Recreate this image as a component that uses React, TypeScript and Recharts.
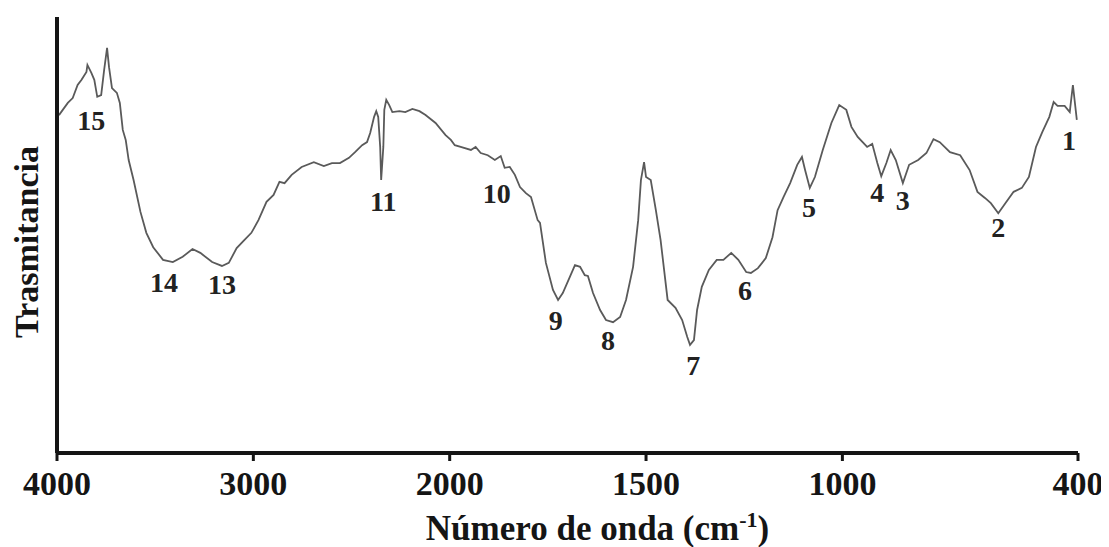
import React from 'react';
import { ComposedChart, Line, Scatter, XAxis, YAxis, Label } from 'recharts';

// FTIR spectrum: wavenumber (cm-1) and transmittance (arbitrary %, 0 = x-axis)
const WAVENUMBERS = [
  3990, 3945, 3920, 3895, 3875, 3850, 3845, 3825, 3810, 3795, 3775, 3760, 3745, 3735, 3720, 3695,
  3680, 3665, 3650, 3635, 3610, 3575, 3545, 3510, 3460, 3410, 3360, 3310, 3270, 3210, 3160, 3125,
  3085, 3045, 3010, 2974, 2933, 2897, 2867, 2841, 2805, 2754, 2692, 2641, 2600, 2559, 2513, 2482,
  2446, 2421, 2405, 2385, 2374, 2364, 2354, 2349, 2338, 2333, 2323, 2308, 2292, 2256, 2226, 2190,
  2154, 2123, 2072, 2021, 1997, 1987, 1972, 1946, 1934, 1921, 1903, 1885, 1870, 1860, 1847, 1834,
  1821, 1806, 1793, 1776, 1770, 1755, 1737, 1724, 1712, 1694, 1681, 1668, 1656, 1648, 1635, 1617,
  1602, 1584, 1566, 1551, 1533, 1520, 1513, 1505, 1500, 1488, 1475, 1463, 1445, 1425, 1408, 1395,
  1388, 1378, 1370, 1358, 1340, 1320, 1303, 1283, 1265, 1245, 1233, 1215, 1195, 1178, 1165, 1150,
  1133, 1115, 1103, 1095, 1083, 1070, 1050, 1028, 1008, 990, 977, 961, 937, 924, 911, 901,
  888, 877, 864, 846, 830, 807, 786, 768, 752, 726, 700, 676, 656, 637, 622, 603,
  585, 564, 543, 525, 507, 491, 473, 462, 452, 434, 421, 413, 403,
];
const TRANSMITTANCE = [
  77.5, 80.3, 81.4, 84.4, 85.6, 87.4, 89.0, 87.2, 85.6, 81.7, 82.1, 87.8, 92.9, 88.5, 83.7, 82.6,
  80.3, 74.1, 71.8, 67.2, 62.6, 55.3, 50.5, 47.2, 44.3, 43.8, 45.0, 46.8, 45.9, 43.8, 42.9, 43.6,
  47.0, 48.9, 50.5, 53.4, 57.6, 59.2, 62.2, 61.9, 63.8, 65.6, 66.7, 65.8, 66.5, 66.5, 67.7, 69.0,
  70.6, 71.3, 73.4, 77.1, 78.4, 77.1, 70.2, 62.6, 70.2, 78.7, 81.0, 79.8, 78.2, 78.4, 78.2, 78.9,
  78.4, 77.5, 75.7, 72.9, 71.8, 70.6, 70.2, 69.5, 70.2, 68.8, 68.3, 67.2, 68.1, 65.4, 65.6, 63.8,
  61.0, 59.6, 58.7, 53.4, 52.8, 43.6, 37.4, 35.1, 36.7, 40.4, 43.1, 42.7, 40.8, 40.6, 36.7, 32.8,
  30.5, 30.0, 31.2, 35.1, 42.7, 53.4, 62.6, 66.7, 63.3, 62.6, 55.7, 48.9, 35.1, 33.3, 30.5, 26.6,
  24.8, 25.9, 32.8, 38.1, 42.0, 44.3, 44.3, 45.9, 44.3, 41.5, 41.3, 42.4, 44.7, 49.5, 55.7, 58.7,
  61.9, 66.1, 67.9, 64.9, 60.8, 63.3, 69.5, 75.7, 79.8, 78.7, 74.8, 72.5, 70.2, 70.9, 66.5, 63.5,
  66.5, 69.5, 67.2, 61.9, 66.1, 67.2, 68.8, 72.0, 71.3, 69.0, 68.3, 64.9, 59.9, 58.5, 57.3, 55.0,
  57.3, 59.9, 60.8, 63.3, 70.2, 73.6, 77.1, 80.5, 79.6, 79.6, 78.2, 84.4, 76.4,
];

const TICK_VALUES = [4000, 3000, 2000, 1500, 1000, 400];

const PEAK_IDS = ['15', '14', '13', '11', '10', '9', '8', '7', '6', '5', '4', '3', '2', '1'];
const PEAK_WN = [3825, 3455, 3160, 2338, 1880, 1730, 1597, 1380, 1248, 1085, 911, 846, 603, 423];
const PEAK_T = [76.4, 39.2, 38.8, 57.8, 59.6, 30.5, 25.9, 20.2, 37.4, 56.4, 59.9, 58.0, 51.8, 71.8];

// Scale break at 2000 cm-1: below it, 500 cm-1 take the same width as 1000 cm-1 above it.
const BREAK = 2000;
const toAxis = (wn: number) => (wn >= BREAK ? 4000 - wn : 2000 + 2 * (BREAK - wn));

const spectrum = WAVENUMBERS.map((wn, i) => ({ u: toAxis(wn), t: TRANSMITTANCE[i] }));
const peaks = PEAK_IDS.map((id, i) => ({ u: toAxis(PEAK_WN[i]), t: PEAK_T[i], id }));
const tickPositions = TICK_VALUES.map(toAxis);

const FONT = '"Liberation Serif", "Times New Roman", serif';
const INK = '#151515';

const XTick = (props: any) => {
  const { x, y, payload } = props;
  const idx = tickPositions.indexOf(payload.value);
  return (
    <text x={x} y={y} dy={32} textAnchor="middle" fontFamily={FONT} fontWeight="bold" fontSize={34} fill={INK}>
      {idx >= 0 ? TICK_VALUES[idx] : ''}
    </text>
  );
};

const XTitle = (props: any) => {
  const vb = props.viewBox;
  return (
    <text
      x={vb.x + vb.width / 2 + 30}
      y={vb.y + 87}
      textAnchor="middle"
      fontFamily={FONT}
      fontWeight="bold"
      fontSize={35}
      fill={INK}
    >
      Número de onda (cm
      <tspan fontSize={22} dy={-13}>-1</tspan>
      <tspan dy={13}>)</tspan>
    </text>
  );
};

const YTitle = () => (
  <text
    x={30}
    y={234}
    transform="rotate(-90, 30, 234)"
    textAnchor="middle"
    fontFamily={FONT}
    fontWeight="bold"
    fontSize={34}
    fill={INK}
  >
    Trasmitancia
  </text>
);

const PeakLabel = (props: any) => {
  const { cx, cy, payload } = props;
  return (
    <text x={cx} y={cy} dy={10} textAnchor="middle" fontFamily={FONT} fontWeight="bold" fontSize={28} fill="#222">
      {payload.id}
    </text>
  );
};

export default function App() {
  return (
    <ComposedChart
      width={1101}
      height={539}
      data={spectrum}
      margin={{ top: 9, right: 31, bottom: 0, left: 0 }}
    >
      <XAxis
        dataKey="u"
        type="number"
        domain={[0, 5200]}
        ticks={tickPositions}
        interval={0}
        height={94}
        axisLine={{ stroke: INK, strokeWidth: 4 }}
        tickLine={{ stroke: INK, strokeWidth: 3 }}
        tickSize={8}
        tick={<XTick />}
      >
        <Label content={<XTitle />} />
      </XAxis>
      <XAxis
        xAxisId="top"
        orientation="top"
        dataKey="u"
        type="number"
        domain={[0, 5200]}
        height={0}
        tick={false}
        tickLine={false}
        axisLine={{ stroke: INK, strokeWidth: 4 }}
      />
      <YAxis
        type="number"
        domain={[0, 100]}
        width={49}
        tick={false}
        tickLine={false}
        axisLine={{ stroke: INK, strokeWidth: 4 }}
      >
        <Label content={<YTitle />} />
      </YAxis>
      <YAxis
        yAxisId="right"
        orientation="right"
        type="number"
        domain={[0, 100]}
        width={0}
        tick={false}
        tickLine={false}
        axisLine={{ stroke: INK, strokeWidth: 4 }}
      />
      <Line
        type="linear"
        dataKey="t"
        stroke="#5a5a5a"
        strokeWidth={1.8}
        dot={false}
        isAnimationActive={false}
      />
      <Scatter data={peaks} dataKey="t" shape={<PeakLabel />} isAnimationActive={false} />
    </ComposedChart>
  );
}
